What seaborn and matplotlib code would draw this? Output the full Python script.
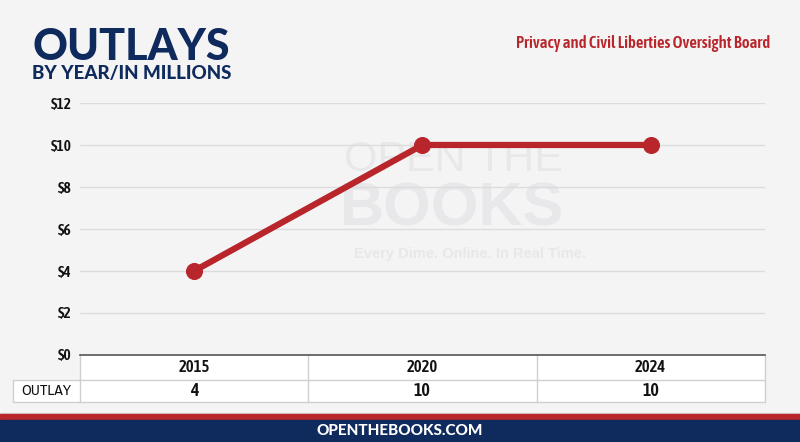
import matplotlib
matplotlib.use("Agg")
import matplotlib.pyplot as plt
import seaborn as sns
import pandas as pd
from matplotlib import font_manager
from matplotlib.font_manager import FontProperties

years = ["2015", "2020", "2024"]
outlays = [4, 10, 10]
yticks = [0, 2, 4, 6, 8, 10, 12]
ytick_labels = ["$0", "$2", "$4", "$6", "$8", "$10", "$12"]
title = "OUTLAYS"
subtitle = "BY YEAR/IN MILLIONS"
agency = "Privacy and Civil Liberties Oversight Board"
row_label = "OUTLAY"
footer = "OPENTHEBOOKS.COM"

navy = "#0f2a5c"
red = "#b8262b"

sns.set_theme(style="white")


def is_narrow(f):
    return ("Condensed" in f.name or "Narrow" in f.name
            or f.stretch in ("condensed", "semi-condensed", "extra-condensed"))


def is_bold(f):
    w = f.weight
    if isinstance(w, str):
        return w in ("bold", "semibold", "demibold", "heavy", "black")
    return w >= 600


fonts = font_manager.fontManager.ttflist
nb = sorted([f for f in fonts if is_narrow(f) and is_bold(f) and f.style == "normal"],
            key=lambda f: (f.name, str(f.weight)))
nr = sorted([f for f in fonts if is_narrow(f) and not is_bold(f) and f.style == "normal"],
            key=lambda f: (f.name, str(f.weight)))


def fp_bold(size):
    if nb:
        return FontProperties(fname=nb[0].fname, size=size)
    return FontProperties(family="Liberation Sans", weight="bold", size=size * 0.85)


def fp_reg(size):
    if nr:
        return FontProperties(fname=nr[0].fname, size=size)
    return FontProperties(family="Liberation Sans", size=size * 0.85)


plt.rcParams["font.family"] = ["Liberation Sans", "DejaVu Sans"]

df = pd.DataFrame({"year": years, "outlay": outlays})

fig = plt.figure(figsize=(8, 4.42), dpi=100, facecolor="#f4f4f5")
ax = fig.add_axes([0.1, 0.197, 0.856, 0.57])
ax.set_facecolor("none")

# faint watermark
wm = "#e8e8ea"
ax.text(0.385, 0.775, "OPEN THE", transform=ax.transAxes, fontsize=31, color=wm,
        ha="left", va="center", zorder=0)
ax.text(0.38, 0.575, "BOOKS", transform=ax.transAxes, fontsize=44, color=wm,
        fontweight="bold", ha="left", va="center", zorder=0)
ax.text(0.4, 0.40, "Every Dime. Online. In Real Time.", transform=ax.transAxes,
        fontsize=10.5, color=wm, fontweight="bold", ha="left", va="center", zorder=0)

sns.lineplot(data=df, x="year", y="outlay", ax=ax, color=red, linewidth=4.5,
             marker="o", markersize=11.5, markeredgecolor=red, zorder=3)

ax.set_xlim(-0.5, 2.5)
ax.set_ylim(0, 12)
ax.set_yticks(yticks)
ax.set_yticklabels(ytick_labels, fontproperties=fp_bold(11), color="#111111")
ax.set_xticks([])
ax.set_xlabel("")
ax.set_ylabel("")
ax.tick_params(axis="y", length=0, pad=6)
ax.grid(axis="y", color="#dcdcdc", linewidth=1)
for s in ["top", "right", "left"]:
    ax.spines[s].set_visible(False)
ax.spines["bottom"].set_color("#555555")
ax.spines["bottom"].set_linewidth(1.2)
ax.spines["bottom"].set_zorder(4)

# table under the axis
tr = ax.transAxes
h = 25 / (0.57 * 442)
low = -2 * h + 0.01
label_left = -67 / 685
edge = "#cfcfcf"
ax.fill_between([0, 1], [-h, -h], [0, 0], transform=tr, color="white", clip_on=False, zorder=1)
ax.fill_between([label_left, 1], [low, low], [-h, -h], transform=tr,
                color="white", clip_on=False, zorder=1)
kw = dict(transform=tr, color=edge, linewidth=1, clip_on=False, zorder=2)
ax.plot([label_left, 1], [-h, -h], **kw)
ax.plot([label_left, 1], [low, low], **kw)
ax.plot([label_left, label_left], [-h, low], **kw)
for i in range(4):
    ax.plot([i / 3, i / 3], [0, low], **kw)
for i, (yr, v) in enumerate(zip(years, outlays)):
    xc = (i + 0.5) / 3
    ax.text(xc, -h / 2, yr, transform=tr, ha="center", va="center",
            fontproperties=fp_bold(12), color="#111111")
    ax.text(xc, (-h + low) / 2, str(v), transform=tr, ha="center", va="center",
            fontproperties=fp_bold(13), color="#111111")
ax.text(label_left / 2, (-h + low) / 2, row_label, transform=tr, ha="center", va="center",
        fontproperties=fp_reg(11), color="#111111")

# titles
fig.text(32 / 800, 1 - 47 / 442, title, fontsize=31, fontweight="black", color=navy,
         va="center", ha="left", family=["Lato", "Liberation Sans", "DejaVu Sans"])
fig.text(32 / 800, 1 - 74 / 442, subtitle, fontsize=13.5, fontweight="black", color=navy,
         va="center", ha="left", family=["Lato", "Liberation Sans", "DejaVu Sans"])
fig.text(770 / 800, 1 - 43 / 442, agency, fontproperties=fp_bold(12), color=red,
         va="center", ha="right")

# footer bands
fig.patches.append(plt.Rectangle((0, 28 / 442), 1, 1.5 / 442, transform=fig.transFigure,
                                 color="#dddddd", zorder=0))
fig.patches.append(plt.Rectangle((0, 22 / 442), 1, 6 / 442, transform=fig.transFigure,
                                 color=red, zorder=0))
fig.patches.append(plt.Rectangle((0, 0), 1, 22 / 442, transform=fig.transFigure,
                                 color=navy, zorder=0))
fig.text(0.5, 11 / 442, footer, fontsize=11, fontweight="black", color="white",
         ha="center", va="center", family=["Lato", "Liberation Sans", "DejaVu Sans"])

fig.savefig("out.png", dpi=100, facecolor=fig.get_facecolor())
